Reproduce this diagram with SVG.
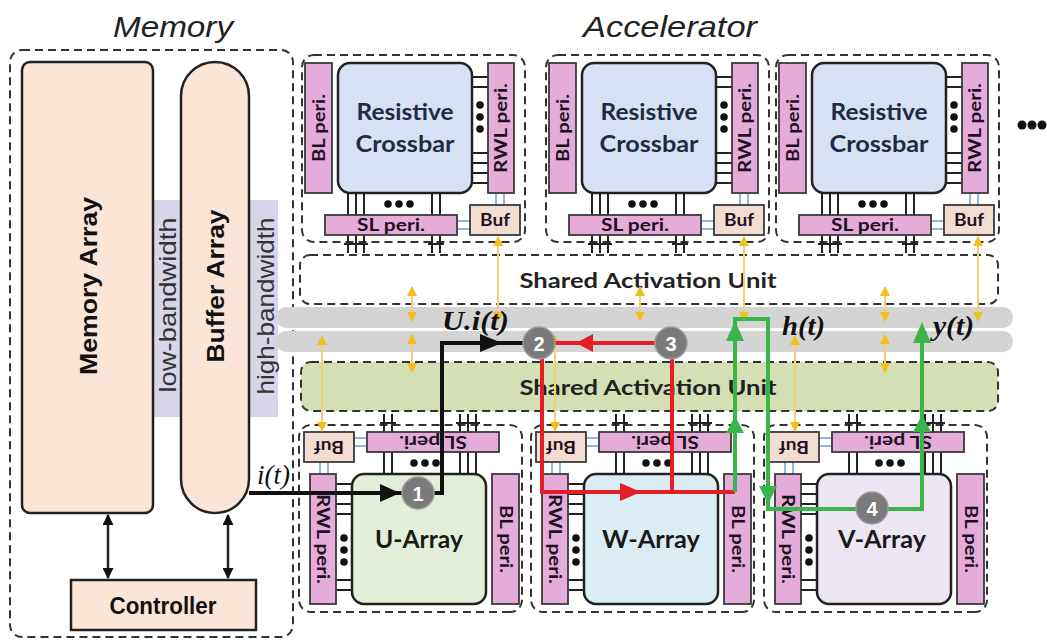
<svg xmlns="http://www.w3.org/2000/svg" xmlns:xlink="http://www.w3.org/1999/xlink" width="1047" height="643" viewBox="0 0 1047 643">
<style>
.dash{fill:none;stroke:#333;stroke-width:2;stroke-dasharray:8 5}
.mem{fill:#fae5d6;stroke:#222;stroke-width:2.5}
.band{fill:#d8d5e8}
.peri{fill:#e5acd9;stroke:#3a3a3a;stroke-width:1.8}
.buf{fill:#f3ddd3;stroke:#3a3a3a;stroke-width:1.8}
.arr{stroke:#222;stroke-width:2.5}
.wire{stroke:#222;stroke-width:2}
.bl{stroke:#8fb8de;stroke-width:2}
.yl{fill:none;stroke:#ecd37a;stroke-width:2}
.title{font-family:"Liberation Sans",Arial,sans-serif;font-style:italic;font-size:30px;fill:#222}
.memt{font-family:"Liberation Sans",Arial,sans-serif;font-weight:bold;font-size:24px;fill:#111;text-anchor:middle;dominant-baseline:central}
.bwt{font-family:"Liberation Sans",Arial,sans-serif;font-size:24px;fill:#333;text-anchor:middle;dominant-baseline:central}
.pt{font-family:Lato,"Open Sans",sans-serif;font-weight:bold;font-size:16.5px;fill:#1e101e;text-anchor:middle;dominant-baseline:central}
.xt{font-family:Lato,"Open Sans",sans-serif;font-weight:bold;font-size:23px;fill:#1f2a44;text-anchor:middle}
.at{font-family:Lato,"Open Sans",sans-serif;font-weight:bold;font-size:25px;fill:#1a1a1a;text-anchor:middle}
.st{font-family:Lato,"Open Sans",sans-serif;font-weight:bold;font-size:21px;fill:#222;text-anchor:middle}
.var{font-family:"Liberation Serif","Times New Roman",serif;font-style:italic;font-weight:bold;font-size:27px;fill:#111}
.num{font-family:"Liberation Sans",Arial,sans-serif;font-weight:bold;font-size:20px;fill:#fff;text-anchor:middle;dominant-baseline:central}
.node{fill:#7a7a7a;stroke:#9c9c9c;stroke-width:1.5}
</style>
<defs>
<marker id="ya" viewBox="0 0 10 10" refX="9" refY="5" markerWidth="10" markerHeight="11" markerUnits="userSpaceOnUse" orient="auto-start-reverse"><path d="M0,0 L10,5 L0,10 z" fill="#f2be1a"/></marker>
<marker id="ka" viewBox="0 0 10 10" refX="9" refY="5" markerWidth="11" markerHeight="11" markerUnits="userSpaceOnUse" orient="auto-start-reverse"><path d="M0,0 L10,5 L0,10 z" fill="#111"/></marker>
<g id="tileBase">
<rect class="dash" x="0" y="0" width="223" height="187" rx="12"/>
<g class="wire">
<line x1="170" y1="22" x2="186" y2="22"/><line x1="170" y1="32" x2="186" y2="32"/>
<line x1="170" y1="98" x2="186" y2="98"/><line x1="170" y1="108" x2="186" y2="108"/>
<line x1="170" y1="118" x2="186" y2="118"/><line x1="170" y1="128" x2="186" y2="128"/>
<line x1="46" y1="138" x2="46" y2="198"/><line x1="54" y1="138" x2="54" y2="198"/>
<line x1="62" y1="138" x2="62" y2="198"/><line x1="130" y1="138" x2="130" y2="198"/>
<line x1="138" y1="138" x2="138" y2="198"/>
<line x1="42" y1="189" x2="66" y2="189"/><line x1="126" y1="189" x2="142" y2="189"/>
</g>
<g fill="#111">
<circle cx="178" cy="50" r="3.8"/><circle cx="178" cy="62" r="3.8"/><circle cx="178" cy="74" r="3.8"/>
<circle cx="86" cy="149" r="3.8"/><circle cx="97" cy="149" r="3.8"/><circle cx="108" cy="149" r="3.8"/>
</g>
<g class="bl">
<line x1="155" y1="166" x2="168" y2="166"/><line x1="155" y1="174" x2="168" y2="174"/>
<line x1="194" y1="138" x2="194" y2="150"/><line x1="202" y1="138" x2="202" y2="150"/>
</g>
<rect class="peri" x="3" y="8" width="27" height="130"/>
<rect class="peri" x="186" y="8" width="26" height="130"/>
<rect class="peri" x="23" y="160" width="132" height="20"/>
<rect class="buf" x="168" y="150" width="50" height="30"/>
</g>
</defs>
<rect width="1047" height="643" fill="#fff"/>

<text class="title" x="113" y="37" textLength="120" lengthAdjust="spacingAndGlyphs">Memory</text>
<text class="title" x="583" y="37" textLength="174" lengthAdjust="spacingAndGlyphs">Accelerator</text>

<g id="memory">
<rect class="dash" x="10" y="50" width="283" height="587" rx="12"/>
<rect class="band" x="153" y="200" width="28" height="217"/>
<rect class="band" x="249" y="200" width="29" height="217"/>
<text class="bwt" transform="translate(167,305) rotate(-90)" textLength="175" lengthAdjust="spacingAndGlyphs">low-bandwidth</text>
<text class="bwt" transform="translate(265,306) rotate(-90)" textLength="177" lengthAdjust="spacingAndGlyphs">high-bandwidth</text>
</g>
<g id="memory-array">
<rect class="mem" x="22" y="62" width="131" height="451" rx="8"/>
<text class="memt" transform="translate(88,286) rotate(-90)" textLength="178" lengthAdjust="spacingAndGlyphs">Memory Array</text>
</g>
<g id="buffer-array">
<rect class="mem" x="181" y="62" width="68" height="451" rx="34"/>
<text class="memt" transform="translate(215,286) rotate(-90)" textLength="153" lengthAdjust="spacingAndGlyphs">Buffer Array</text>
</g>
<g id="controller">
<rect class="mem" x="71" y="580" width="185" height="50"/>
<text class="memt" x="163" y="605" font-size="22" textLength="107" lengthAdjust="spacingAndGlyphs">Controller</text>
</g>

<g id="bus">
<rect x="276" y="307" width="737" height="21" rx="10" fill="#d4d4d4"/>
<rect x="276" y="331" width="737" height="21" rx="10" fill="#d4d4d4"/>
</g>
<g id="sau-top">
<rect class="dash" x="300" y="255" width="698" height="49" rx="10" style="fill:#fff"/>
<text class="st" x="648" y="288" textLength="257" lengthAdjust="spacingAndGlyphs">Shared Activation Unit</text>
</g>
<g id="sau-bottom">
<rect class="dash" x="301" y="362" width="697" height="49" rx="10" style="fill:#d4e0b4"/>
<text class="st" x="648" y="395" textLength="257" lengthAdjust="spacingAndGlyphs">Shared Activation Unit</text>
</g>

<g id="crossbar-1" transform="translate(302,55)">
<use href="#tileBase" xlink:href="#tileBase"/>
<rect class="mem" x="36" y="8" width="134" height="130" rx="12" style="fill:#d8e0f3"/>
<text class="pt" transform="translate(16.5,73) rotate(-90)" textLength="68" lengthAdjust="spacingAndGlyphs">BL peri.</text>
<text class="pt" transform="translate(199,73) rotate(-90)" textLength="90" lengthAdjust="spacingAndGlyphs">RWL peri.</text>
<text class="pt" x="89" y="170" textLength="68" lengthAdjust="spacingAndGlyphs">SL peri.</text>
<text class="pt" x="193" y="165" textLength="30" lengthAdjust="spacingAndGlyphs">Buf</text>
<text class="xt" x="103" y="65" textLength="97" lengthAdjust="spacingAndGlyphs">Resistive</text>
<text class="xt" x="103" y="97" textLength="99" lengthAdjust="spacingAndGlyphs">Crossbar</text>
</g>
<g id="crossbar-2" transform="translate(546,55)">
<use href="#tileBase" xlink:href="#tileBase"/>
<rect class="mem" x="36" y="8" width="134" height="130" rx="12" style="fill:#d8e0f3"/>
<text class="pt" transform="translate(16.5,73) rotate(-90)" textLength="68" lengthAdjust="spacingAndGlyphs">BL peri.</text>
<text class="pt" transform="translate(199,73) rotate(-90)" textLength="90" lengthAdjust="spacingAndGlyphs">RWL peri.</text>
<text class="pt" x="89" y="170" textLength="68" lengthAdjust="spacingAndGlyphs">SL peri.</text>
<text class="pt" x="193" y="165" textLength="30" lengthAdjust="spacingAndGlyphs">Buf</text>
<text class="xt" x="103" y="65" textLength="97" lengthAdjust="spacingAndGlyphs">Resistive</text>
<text class="xt" x="103" y="97" textLength="99" lengthAdjust="spacingAndGlyphs">Crossbar</text>
</g>
<g id="crossbar-3" transform="translate(776,55)">
<use href="#tileBase" xlink:href="#tileBase"/>
<rect class="mem" x="36" y="8" width="134" height="130" rx="12" style="fill:#d8e0f3"/>
<text class="pt" transform="translate(16.5,73) rotate(-90)" textLength="68" lengthAdjust="spacingAndGlyphs">BL peri.</text>
<text class="pt" transform="translate(199,73) rotate(-90)" textLength="90" lengthAdjust="spacingAndGlyphs">RWL peri.</text>
<text class="pt" x="89" y="170" textLength="68" lengthAdjust="spacingAndGlyphs">SL peri.</text>
<text class="pt" x="193" y="165" textLength="30" lengthAdjust="spacingAndGlyphs">Buf</text>
<text class="xt" x="103" y="65" textLength="97" lengthAdjust="spacingAndGlyphs">Resistive</text>
<text class="xt" x="103" y="97" textLength="99" lengthAdjust="spacingAndGlyphs">Crossbar</text>
</g>
<g fill="#111" id="more">
<circle cx="1022" cy="125" r="4.5"/><circle cx="1032" cy="125" r="4.5"/><circle cx="1042" cy="125" r="4.5"/>
</g>

<g id="u-array">
<g transform="translate(522,612) rotate(180)">
<use href="#tileBase" xlink:href="#tileBase"/>
<rect class="mem" x="36" y="8" width="134" height="130" rx="12" style="fill:#e3eed8"/>
<text class="pt" transform="translate(16.5,73) rotate(-90)" textLength="68" lengthAdjust="spacingAndGlyphs">BL peri.</text>
<text class="pt" transform="translate(199,73) rotate(-90)" textLength="90" lengthAdjust="spacingAndGlyphs">RWL peri.</text>
<text class="pt" x="89" y="170" textLength="68" lengthAdjust="spacingAndGlyphs">SL peri.</text>
<text class="pt" x="193" y="165" textLength="30" lengthAdjust="spacingAndGlyphs">Buf</text>
</g>
<text class="at" x="419" y="548" textLength="88" lengthAdjust="spacingAndGlyphs">U-Array</text>
</g>
<g id="w-array">
<g transform="translate(754,612) rotate(180)">
<use href="#tileBase" xlink:href="#tileBase"/>
<rect class="mem" x="36" y="8" width="134" height="130" rx="12" style="fill:#dbedf3"/>
<text class="pt" transform="translate(16.5,73) rotate(-90)" textLength="68" lengthAdjust="spacingAndGlyphs">BL peri.</text>
<text class="pt" transform="translate(199,73) rotate(-90)" textLength="90" lengthAdjust="spacingAndGlyphs">RWL peri.</text>
<text class="pt" x="89" y="170" textLength="68" lengthAdjust="spacingAndGlyphs">SL peri.</text>
<text class="pt" x="193" y="165" textLength="30" lengthAdjust="spacingAndGlyphs">Buf</text>
</g>
<text class="at" x="651" y="548" textLength="98" lengthAdjust="spacingAndGlyphs">W-Array</text>
</g>
<g id="v-array">
<g transform="translate(987,612) rotate(180)">
<use href="#tileBase" xlink:href="#tileBase"/>
<rect class="mem" x="36" y="8" width="134" height="130" rx="12" style="fill:#ece6f2"/>
<text class="pt" transform="translate(16.5,73) rotate(-90)" textLength="68" lengthAdjust="spacingAndGlyphs">BL peri.</text>
<text class="pt" transform="translate(199,73) rotate(-90)" textLength="90" lengthAdjust="spacingAndGlyphs">RWL peri.</text>
<text class="pt" x="89" y="170" textLength="68" lengthAdjust="spacingAndGlyphs">SL peri.</text>
<text class="pt" x="193" y="165" textLength="30" lengthAdjust="spacingAndGlyphs">Buf</text>
</g>
<text class="at" x="882" y="548" textLength="88" lengthAdjust="spacingAndGlyphs">V-Array</text>
</g>

<g id="connectors">
<g class="arr">
<line x1="108" y1="515" x2="108" y2="578" marker-start="url(#ka)" marker-end="url(#ka)"/>
<line x1="228" y1="515" x2="228" y2="578" marker-start="url(#ka)" marker-end="url(#ka)"/>
</g>
<g class="yl" marker-start="url(#ya)" marker-end="url(#ya)">
<line x1="498" y1="237" x2="498" y2="321"/>
<line x1="744" y1="237" x2="744" y2="321"/>
<line x1="978" y1="237" x2="978" y2="321"/>
<line x1="322" y1="336" x2="322" y2="431"/>
<line x1="555" y1="336" x2="555" y2="431"/>
<line x1="795" y1="336" x2="795" y2="431"/>
<line x1="412" y1="287" x2="412" y2="321"/>
<line x1="412" y1="335" x2="412" y2="372"/>
<line x1="640" y1="287" x2="640" y2="321"/>
<line x1="885" y1="287" x2="885" y2="321"/>
<line x1="885" y1="335" x2="885" y2="372"/>
</g>
<g fill="none" stroke-width="4" stroke-linejoin="miter">
<polyline stroke="#111" points="249,493 410,493"/>
<polyline stroke="#111" points="430,493 442,493 442,343 530,343"/>
<polyline stroke="#e31e24" points="660,343 550,343"/>
<polyline stroke="#e31e24" points="542,350 542,492 735,492"/>
<polyline stroke="#e31e24" points="672,350 672,492"/>
<polyline stroke="#3ab54a" points="735,492 735,319 768,319 768,509 922,509 922,330"/>
</g>
<g>
<polygon fill="#111" points="380,484 400,493 380,502"/>
<polygon fill="#111" points="480,334 502,343 480,352"/>
<polygon fill="#e31e24" points="593,334 576,343 593,352"/>
<polygon fill="#e31e24" points="620,483 641,492 620,501"/>
<polygon fill="#3ab54a" points="726,433 735,416 744,433"/>
<polygon fill="#3ab54a" points="726,341 735,321 744,341"/>
<polygon fill="#3ab54a" points="759,486 768,504 777,486"/>
<polygon fill="#3ab54a" points="913,432 922,415 931,432"/>
<polygon fill="#3ab54a" points="913,343 922,322 931,343"/>
</g>
<text class="var" x="257" y="484" style="font-weight:normal" textLength="33" lengthAdjust="spacingAndGlyphs">i(t)</text>
<text class="var" x="442" y="330" textLength="67" lengthAdjust="spacingAndGlyphs">U.i(t)</text>
<text class="var" x="782" y="335" textLength="43" lengthAdjust="spacingAndGlyphs">h(t)</text>
<text class="var" x="933" y="335" textLength="41" lengthAdjust="spacingAndGlyphs">y(t)</text>
</g>

<g id="step-1"><circle class="node" cx="418" cy="493" r="16"/><text class="num" x="418" y="494">1</text></g>
<g id="step-2"><circle class="node" cx="539" cy="343" r="16"/><text class="num" x="539" y="344">2</text></g>
<g id="step-3"><circle class="node" cx="671" cy="343" r="16"/><text class="num" x="671" y="344">3</text></g>
<g id="step-4"><circle class="node" cx="872" cy="508" r="16"/><text class="num" x="872" y="509">4</text></g>
</svg>
